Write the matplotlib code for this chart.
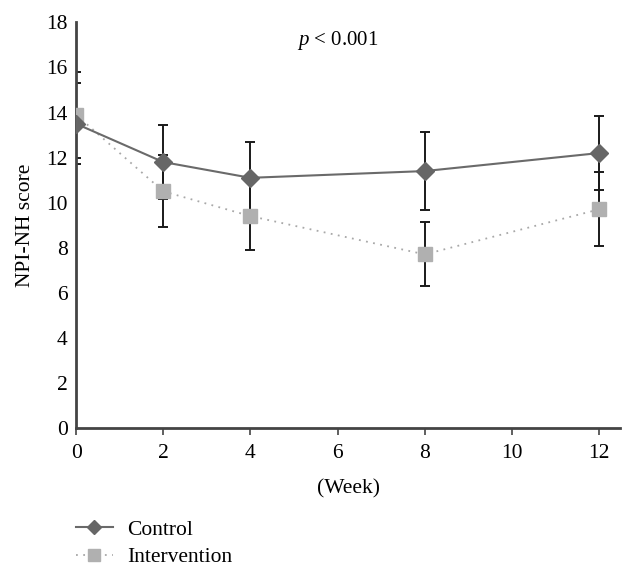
import matplotlib.pyplot as plt

# data
weeks = [0, 2, 4, 8, 12]
control_mean = [13.5, 11.8, 11.1, 11.4, 12.2]
control_err = [1.8, 1.66, 1.6, 1.75, 1.63]
interv_mean = [13.9, 10.5, 9.4, 7.7, 9.7]
interv_err = [1.9, 1.6, 1.5, 1.42, 1.64]

plt.rcParams['font.family'] = ['Liberation Serif', 'DejaVu Serif']
plt.rcParams['mathtext.fontset'] = 'custom'
plt.rcParams['mathtext.it'] = 'Liberation Serif:italic'
plt.rcParams['mathtext.rm'] = 'Liberation Serif'

fig = plt.figure(figsize=(6.34, 5.75), dpi=100)
ax = fig.add_axes([0.12, 0.256, 0.858, 0.705])

# error bars first, then the lines and markers on top
ax.errorbar(weeks, control_mean, yerr=control_err, fmt='none', ecolor='#1a1a1a',
            elinewidth=1.4, capsize=3.5, capthick=1.4, zorder=2)
ax.errorbar(weeks, interv_mean, yerr=interv_err, fmt='none', ecolor='#1a1a1a',
            elinewidth=1.4, capsize=3.5, capthick=1.4, zorder=2)

ax.plot(weeks, interv_mean, color='#a8a8a8', linestyle=(0, (1, 3)), linewidth=1.3,
        marker='s', markersize=10, markerfacecolor='#b0b0b0', markeredgecolor='#b0b0b0',
        label='Intervention', zorder=3)
ax.plot(weeks, control_mean, color='#6a6a6a', linestyle='-', linewidth=1.5,
        marker='D', markersize=9, markerfacecolor='#666666', markeredgecolor='#666666',
        label='Control', zorder=4)

ax.set_xlim(0, 12.48)
ax.set_ylim(0, 18)
ax.set_xticks(range(0, 13, 2))
ax.set_yticks(range(0, 19, 2))

for side in ['top', 'right']:
    ax.spines[side].set_visible(False)
for side in ['left', 'bottom']:
    ax.spines[side].set_color('#444444')
    ax.spines[side].set_linewidth(2)

ax.tick_params(axis='y', length=0, labelsize=15.5, pad=6)
ax.tick_params(axis='x', length=5, width=1.2, color='#444444', labelsize=15.5, pad=7)

ax.set_xlabel('(Week)', fontsize=15.5, labelpad=11)
ax.set_ylabel('NPI-NH score', fontsize=15.5, labelpad=8)

ax.text(6, 17.2, r'$p$ < 0.001', fontsize=15, ha='center', va='center')

handles, labels = ax.get_legend_handles_labels()
fig.legend(handles[::-1], labels[::-1], loc='upper left', bbox_to_anchor=(0.106, 0.111),
           frameon=False, fontsize=15.5, handlelength=1.72, labelspacing=0.35,
           handletextpad=0.65, borderaxespad=0, markerscale=0.8)

plt.savefig('out.png', dpi=100)
